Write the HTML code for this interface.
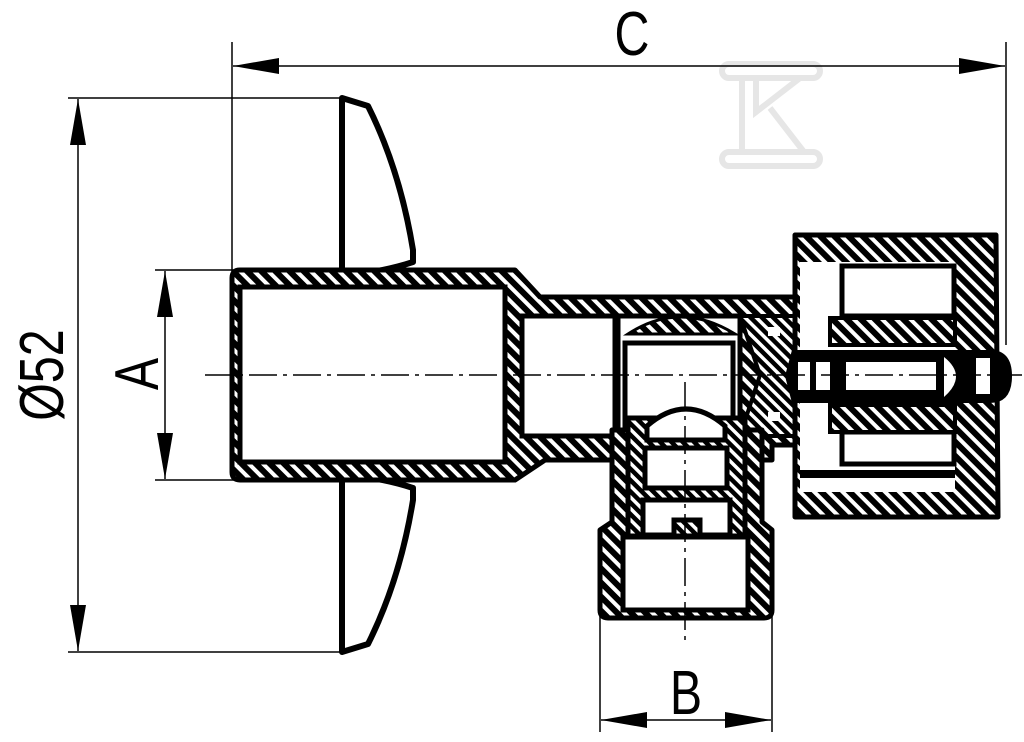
<!DOCTYPE html>
<html><head><style>html,body{margin:0;padding:0;background:#fff}svg{display:block}</style></head>
<body>
<svg width="1024" height="742" viewBox="0 0 1024 742" xmlns="http://www.w3.org/2000/svg">
<defs>
<pattern id="h" patternUnits="userSpaceOnUse" width="10" height="10" patternTransform="rotate(45)">
<rect width="10" height="10" fill="#000"/><rect x="0" y="0" width="10" height="4" fill="#fff"/>
</pattern>
<pattern id="h2" patternUnits="userSpaceOnUse" width="8" height="8" patternTransform="rotate(45)">
<rect width="8" height="8" fill="#000"/><rect x="0" y="0" width="8" height="3.5" fill="#fff"/>
</pattern>
<marker id="a" viewBox="0 0 20 10" refX="20" refY="5" markerWidth="46" markerHeight="16" markerUnits="userSpaceOnUse" orient="auto" preserveAspectRatio="none">
<path d="M0,0 L20,5 L0,10 Z" fill="#000"/></marker>
</defs>
<g fill="none" stroke="#000" stroke-width="1.5">
<g stroke="#e6e6e6" stroke-width="6" fill="none">
<rect x="722" y="64" width="98" height="14" rx="7"/>
<rect x="722" y="152" width="98" height="14" rx="7"/>
<path d="M742 78 V152 M756 78 V112 L800 78 M770 108 L804 152"/>
</g>
<line x1="232" y1="42" x2="232" y2="272"/>
<line x1="1006" y1="42" x2="1006" y2="345"/>
<line x1="68" y1="98" x2="342" y2="98"/>
<line x1="68" y1="652" x2="342" y2="652"/>
<line x1="155" y1="270" x2="240" y2="270"/>
<line x1="155" y1="480" x2="240" y2="480"/>
<line x1="600" y1="612" x2="600" y2="732"/>
<line x1="772" y1="612" x2="772" y2="732"/>
<line x1="620" y1="66" x2="233" y2="66" marker-end="url(#a)"/>
<line x1="620" y1="66" x2="1005" y2="66" marker-end="url(#a)"/>
<line x1="78" y1="375" x2="78" y2="99" marker-end="url(#a)"/>
<line x1="78" y1="375" x2="78" y2="651" marker-end="url(#a)"/>
<line x1="165" y1="375" x2="165" y2="271" marker-end="url(#a)"/>
<line x1="165" y1="375" x2="165" y2="479" marker-end="url(#a)"/>
<line x1="686" y1="720" x2="601" y2="720" marker-end="url(#a)"/>
<line x1="686" y1="720" x2="771" y2="720" marker-end="url(#a)"/>
</g>
<g font-family="Liberation Sans, sans-serif" font-size="62" fill="#000">
<text transform="translate(632,55) scale(0.78,1)" text-anchor="middle">C</text>
<text transform="translate(686,714) scale(0.78,1)" text-anchor="middle">B</text>
<text transform="translate(63,375) rotate(-90) scale(0.78,1)" text-anchor="middle">Ø52</text>
<text transform="translate(158,374) rotate(-90) scale(0.78,1)" text-anchor="middle">A</text>
</g>
<g fill="#fff" stroke="#000" stroke-width="6" stroke-linejoin="round">
<path d="M342 98 L368 106 Q400 170 413 250 L413 262 Q395 268 372 272 L342 272 Z"/>
<path d="M342 652 L368 644 Q400 580 413 500 L413 488 Q395 482 372 478 L342 478 Z"/>
</g>
<path fill="url(#h)" stroke="#000" stroke-width="5" stroke-linejoin="round" fill-rule="evenodd"
d="M240 270 L515 270 L540 297 L828 297 L828 445 L772 445 L772 460 L545 460 L515 480 L240 480 Q232 480 232 472 L232 278 Q232 270 240 270 Z"/>
<rect x="240" y="287" width="265" height="175" fill="#fff" stroke="#000" stroke-width="5"/>
<rect x="522" y="316" width="93" height="120" fill="#fff" stroke="#000" stroke-width="5"/>
<rect x="618" y="316" width="122" height="120" fill="#fff" stroke="#000" stroke-width="5"/>
<path d="M628 334 Q680 300 735 334 Z" fill="url(#h)" stroke="#000" stroke-width="3"/>
<rect x="625" y="343" width="108" height="93" fill="#fff" stroke="#000" stroke-width="5"/>
<path d="M740 316 L830 316 L830 436 L740 436 L760 375 Z" fill="url(#h2)" stroke="#000" stroke-width="4"/>
<path fill="url(#h)" stroke="#000" stroke-width="5" stroke-linejoin="round" fill-rule="evenodd"
d="M795 235 L996 235 L998 517 L795 517 Z"/>
<rect x="800" y="262" width="155" height="230" fill="#fff" stroke="none"/>
<rect x="842" y="266" width="112" height="50" fill="#fff" stroke="#000" stroke-width="5"/>
<rect x="842" y="432" width="112" height="32" fill="#fff" stroke="#000" stroke-width="5"/>
<rect x="800" y="470" width="155" height="8" fill="#000"/>
<path d="M830 318 L955 318 L955 345 L830 345 Z M830 405 L955 405 L955 432 L830 432 Z" fill="url(#h)" stroke="#000" stroke-width="4"/>
<path d="M792 350 L990 350 Q1012 350 1012 376 Q1012 403 990 403 L792 403 L785 376 Z" fill="#000"/>
<rect x="798" y="362" width="12" height="28" fill="#fff"/>
<rect x="816" y="362" width="14" height="28" fill="#fff"/>
<rect x="846" y="362" width="90" height="28" fill="#fff"/>
<path d="M944 357 Q968 376 944 397 Z" fill="#fff"/>
<rect x="976" y="358" width="14" height="36" fill="#fff"/>
<rect x="768" y="327" width="12" height="9" fill="#fff"/><rect x="800" y="327" width="12" height="9" fill="#fff"/>
<rect x="768" y="412" width="12" height="9" fill="#fff"/><rect x="800" y="412" width="12" height="9" fill="#fff"/>
<path fill="url(#h)" stroke="#000" stroke-width="5" stroke-linejoin="round"
d="M612 430 L762 430 L762 522 L772 530 L772 610 Q772 618 764 618 L608 618 Q600 618 600 610 L600 530 L612 522 Z"/>
<rect x="623" y="537" width="125" height="73" fill="#fff" stroke="#000" stroke-width="5"/>
<rect x="628" y="418" width="117" height="118" fill="url(#h2)" stroke="#000" stroke-width="5"/>
<rect x="645" y="448" width="82" height="40" fill="#fff" stroke="#000" stroke-width="5"/>
<path d="M647 440 L647 426 Q686 392 725 426 L725 440 Z" fill="#fff" stroke="#000" stroke-width="5"/>
<path d="M643 500 L730 500 L730 535 L700 535 L700 520 L674 520 L674 535 L643 535 Z" fill="#fff" stroke="#000" stroke-width="5"/>
<g stroke="#000" stroke-width="1.5" stroke-dasharray="28,6,4,6">
<line x1="205" y1="375" x2="1022" y2="375"/>
<line x1="685" y1="382" x2="685" y2="640"/>
</g>
</svg>
</body></html>
